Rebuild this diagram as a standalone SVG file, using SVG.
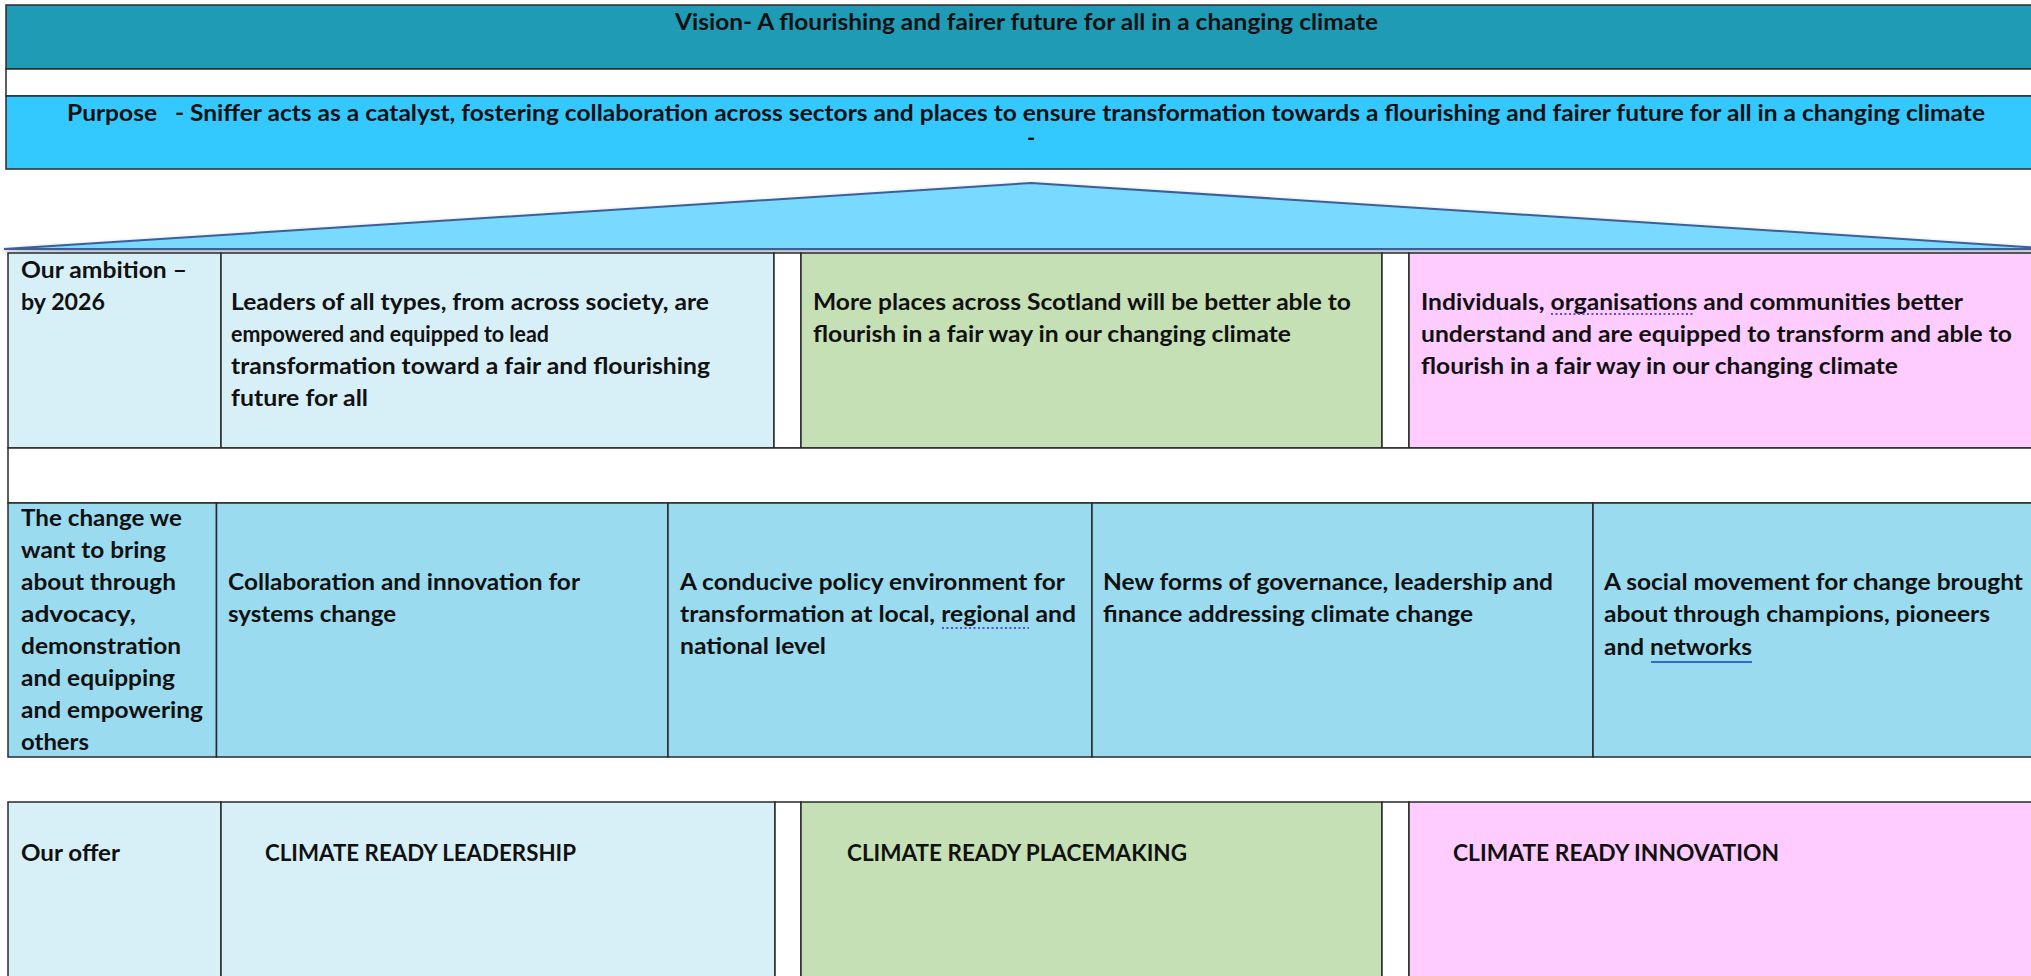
<svg xmlns="http://www.w3.org/2000/svg" width="2031" height="976" viewBox="0 0 2031 976">
<defs>
<style>
.t{font-family:Lato,"Liberation Sans",sans-serif;font-weight:bold;font-size:22px;fill:#111}
.c{stroke:#2a2a2a;stroke-width:1.5}
.teal{fill:#1F9BB6}.cyan{fill:#33C9FF}.lb{fill:#D7F0F8}.gr{fill:#C5E0B4}.pk{fill:#FFCCFF}.mb{fill:#9BDBEF}.wh{fill:#FFFFFF}
.dots{stroke:#5A4FD8;stroke-width:2;stroke-dasharray:2 2.5;fill:none}
</style>
<filter id="sh" x="-5%" y="-50%" width="110%" height="200%">
<feGaussianBlur in="SourceAlpha" stdDeviation="2"/>
<feOffset dx="0" dy="2" result="b"/>
<feFlood flood-color="#2b3f6b" flood-opacity="0.45"/>
<feComposite in2="b" operator="in"/>
<feMerge><feMergeNode/><feMergeNode in="SourceGraphic"/></feMerge>
</filter>
</defs>
<rect width="2031" height="976" fill="#FFFFFF"/>

<g id="vision">
<rect class="c teal" x="6" y="5" width="2040" height="64"/>
<text class="t" x="675" y="30" font-size="23" textLength="703" lengthAdjust="spacingAndGlyphs">Vision- A flourishing and fairer future for all in a changing climate</text>
</g>
<g id="spacer-top">
<rect class="c wh" x="6" y="69" width="2040" height="27"/>
</g>
<g id="purpose">
<rect class="c cyan" x="6" y="96" width="2040" height="73"/>
<text class="t" x="67" y="121" textLength="1918" lengthAdjust="spacingAndGlyphs" xml:space="preserve">Purpose   - Sniffer acts as a catalyst, fostering collaboration across sectors and places to ensure transformation towards a flourishing and fairer future for all in a changing climate</text>
<text class="t" x="1027" y="146">-</text>
</g>

<g id="triangle">
<polygon points="4,249 1031,183 2058,249" fill="#7AD9FF" stroke="#3E5F96" stroke-width="2" filter="url(#sh)"/>
</g>

<g id="ambition-label">
<rect class="c lb" x="8" y="253" width="213" height="195"/>
<text class="t" x="21" y="278" textLength="166" lengthAdjust="spacingAndGlyphs">Our ambition –</text>
<text class="t" x="21" y="310" textLength="84" lengthAdjust="spacingAndGlyphs">by 2026</text>
</g>
<g id="ambition-leaders">
<rect class="c lb" x="221" y="253" width="553" height="195"/>
<text class="t" x="231" y="310" textLength="478" lengthAdjust="spacingAndGlyphs">Leaders of all types, from across society, are</text>
<text class="t" x="231" y="342" textLength="318" lengthAdjust="spacingAndGlyphs">empowered and equipped to lead</text>
<text class="t" x="231" y="374" textLength="479" lengthAdjust="spacingAndGlyphs">transformation toward a fair and flourishing</text>
<text class="t" x="231" y="406" textLength="137" lengthAdjust="spacingAndGlyphs">future for all</text>
</g>
<g id="ambition-gap1"><rect class="c wh" x="774" y="253" width="27" height="195"/></g>
<g id="ambition-places">
<rect class="c gr" x="801" y="253" width="581" height="195"/>
<text class="t" x="813" y="310" textLength="538" lengthAdjust="spacingAndGlyphs">More places across Scotland will be better able to</text>
<text class="t" x="813" y="342" textLength="478" lengthAdjust="spacingAndGlyphs">flourish in a fair way in our changing climate</text>
</g>
<g id="ambition-gap2"><rect class="c wh" x="1382" y="253" width="27" height="195"/></g>
<g id="ambition-individuals">
<rect class="c pk" x="1409" y="253" width="640" height="195"/>
<text class="t" x="1421" y="310" textLength="542" lengthAdjust="spacingAndGlyphs">Individuals, organisations and communities better</text>
<text class="t" x="1421" y="342" textLength="591" lengthAdjust="spacingAndGlyphs">understand and are equipped to transform and able to</text>
<text class="t" x="1421" y="374" textLength="477" lengthAdjust="spacingAndGlyphs">flourish in a fair way in our changing climate</text>
<line class="dots" x1="1551" y1="314" x2="1695" y2="314"/>
</g>

<g id="spacer-mid"><rect class="c wh" x="8" y="448" width="2040" height="55"/></g>

<g id="change-label">
<rect class="c mb" x="8" y="503" width="208.5" height="254"/>
<text class="t" x="21" y="526" textLength="161" lengthAdjust="spacingAndGlyphs">The change we</text>
<text class="t" x="21" y="558" textLength="145" lengthAdjust="spacingAndGlyphs">want to bring</text>
<text class="t" x="21" y="590" textLength="155" lengthAdjust="spacingAndGlyphs">about through</text>
<text class="t" x="21" y="622" textLength="115" lengthAdjust="spacingAndGlyphs">advocacy,</text>
<text class="t" x="21" y="654" textLength="160" lengthAdjust="spacingAndGlyphs">demonstration</text>
<text class="t" x="21" y="686" textLength="154" lengthAdjust="spacingAndGlyphs">and equipping</text>
<text class="t" x="21" y="718" textLength="182" lengthAdjust="spacingAndGlyphs">and empowering</text>
<text class="t" x="21" y="750" textLength="68" lengthAdjust="spacingAndGlyphs">others</text>
</g>
<g id="change-collaboration">
<rect class="c mb" x="216.5" y="503" width="451.5" height="254"/>
<text class="t" x="228" y="590" textLength="352" lengthAdjust="spacingAndGlyphs">Collaboration and innovation for</text>
<text class="t" x="228" y="622" textLength="168" lengthAdjust="spacingAndGlyphs">systems change</text>
</g>
<g id="change-policy">
<rect class="c mb" x="668" y="503" width="424" height="254"/>
<text class="t" x="680" y="590" textLength="385" lengthAdjust="spacingAndGlyphs">A conducive policy environment for</text>
<text class="t" x="680" y="622" textLength="396" lengthAdjust="spacingAndGlyphs">transformation at local, regional and</text>
<text class="t" x="680" y="654" textLength="146" lengthAdjust="spacingAndGlyphs">national level</text>
<line class="dots" x1="942" y1="628" x2="1029" y2="628"/>
</g>
<g id="change-governance">
<rect class="c mb" x="1092" y="503" width="501" height="254"/>
<text class="t" x="1103" y="590" textLength="450" lengthAdjust="spacingAndGlyphs">New forms of governance, leadership and</text>
<text class="t" x="1103" y="622" textLength="370" lengthAdjust="spacingAndGlyphs">finance addressing climate change</text>
</g>
<g id="change-social">
<rect class="c mb" x="1593" y="503" width="456" height="254"/>
<text class="t" x="1604" y="590" textLength="419" lengthAdjust="spacingAndGlyphs">A social movement for change brought</text>
<text class="t" x="1604" y="622" textLength="386" lengthAdjust="spacingAndGlyphs">about through champions, pioneers</text>
<text class="t" x="1604" y="655" textLength="148" lengthAdjust="spacingAndGlyphs">and networks</text>
<line x1="1651" y1="662" x2="1752" y2="662" stroke="#2F6BD1" stroke-width="2"/>
</g>

<g id="offer-label">
<rect class="c lb" x="8" y="802" width="213" height="200"/>
<text class="t" x="21" y="861" textLength="99" lengthAdjust="spacingAndGlyphs">Our offer</text>
</g>
<g id="offer-leadership">
<rect class="c lb" x="221" y="802" width="554" height="200"/>
<text class="t" x="265" y="861" textLength="311" lengthAdjust="spacingAndGlyphs">CLIMATE READY LEADERSHIP</text>
</g>
<g id="offer-gap1"><rect class="c wh" x="775" y="802" width="26" height="200"/></g>
<g id="offer-placemaking">
<rect class="c gr" x="801" y="802" width="581" height="200"/>
<text class="t" x="847" y="861" textLength="340" lengthAdjust="spacingAndGlyphs">CLIMATE READY PLACEMAKING</text>
</g>
<g id="offer-gap2"><rect class="c wh" x="1382" y="802" width="27" height="200"/></g>
<g id="offer-innovation">
<rect class="c pk" x="1409" y="802" width="640" height="200"/>
<text class="t" x="1453" y="861" textLength="326" lengthAdjust="spacingAndGlyphs">CLIMATE READY INNOVATION</text>
</g>

<g id="connectors"></g>
</svg>
